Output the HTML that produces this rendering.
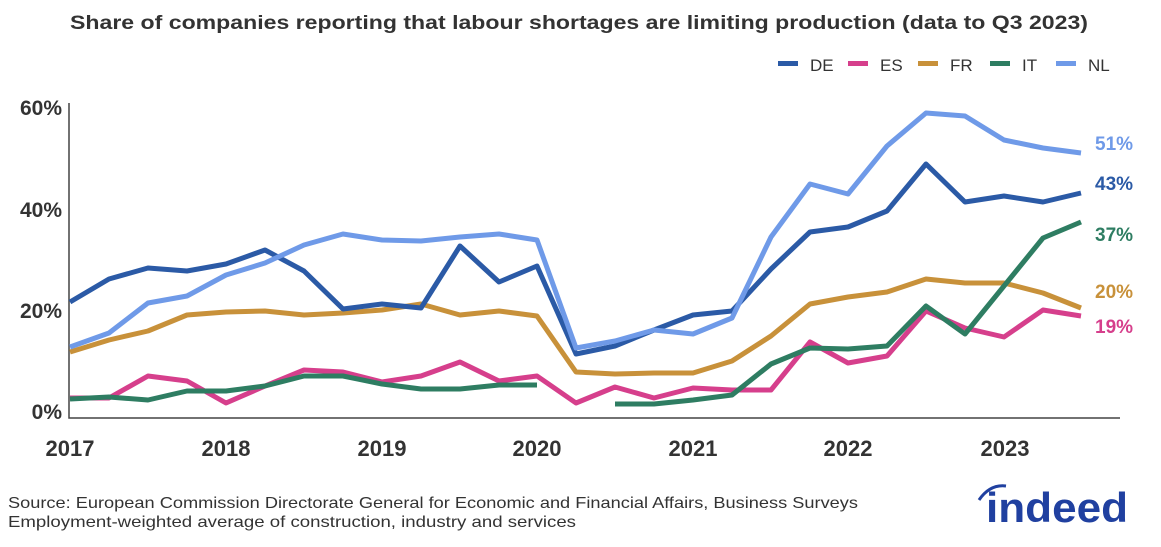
<!DOCTYPE html>
<html><head><meta charset="utf-8"><style>
html,body{margin:0;padding:0;background:#fff;}
svg{display:block;font-family:"Liberation Sans",sans-serif;}
</style></head><body>
<svg width="1161" height="547" viewBox="0 0 1161 547">
<text x="70" y="29" font-size="19" font-weight="bold" fill="#333" textLength="1018" lengthAdjust="spacingAndGlyphs">Share of companies reporting that labour shortages are limiting production (data to Q3 2023)</text>
<g font-size="17" fill="#333">
<rect x="778" y="61" width="20" height="5" fill="#2b5aa6"/><text x="810" y="71">DE</text>
<rect x="848" y="61" width="20" height="5" fill="#d63f8c"/><text x="880" y="71">ES</text>
<rect x="918" y="61" width="20" height="5" fill="#c8913a"/><text x="950" y="71">FR</text>
<rect x="990" y="61" width="20" height="5" fill="#2e7d62"/><text x="1022" y="71">IT</text>
<rect x="1056" y="61" width="20" height="5" fill="#6f9ae8"/><text x="1088" y="71">NL</text>
</g>
<g font-size="21" font-weight="bold" fill="#333" text-anchor="end">
<text x="62" y="115">60%</text><text x="62" y="217">40%</text><text x="62" y="318">20%</text><text x="62" y="419">0%</text>
</g>
<g font-size="22" font-weight="bold" fill="#333" text-anchor="middle">
<text x="70" y="456">2017</text><text x="226" y="456">2018</text><text x="382" y="456">2019</text><text x="537" y="456">2020</text><text x="693" y="456">2021</text><text x="848" y="456">2022</text><text x="1005" y="456">2023</text>
</g>
<path d="M69 103 V418 H1120" fill="none" stroke="#444" stroke-width="1.5"/>
<g fill="none" stroke-width="5" stroke-linejoin="round">
<polyline stroke="#d63f8c" points="70,398 109,398 148,376 187,381 226,403 265,386 304,370 343,372 382,382 421,376 460,362 499,381 537,376 576,403 615,387 654,398 693,388 732,390 771,390 810,342 848,363 887,356 926,311 965,328 1004,337 1043,310 1081,316"/>
<polyline stroke="#c8913a" points="70,352 109,340 148,331 187,315 226,312 265,311 304,315 343,313 382,310 421,304 460,315 499,311 537,316 576,372 615,374 654,373 693,373 732,361 771,336 810,304 848,297 887,292 926,279 965,283 1004,283 1043,293 1081,308"/>
<polyline stroke="#2e7d62" points="70,399 109,397 148,400 187,391 226,391 265,386 304,376 343,376 382,384 421,389 460,389 499,385 537,385"/>
<polyline stroke="#2e7d62" points="615,404 654,404 693,400 732,395 771,364 810,348 848,349 887,346 926,306 965,334 1004,286 1043,238 1081,222"/>
<polyline stroke="#2b5aa6" points="70,302 109,279 148,268 187,271 226,264 265,250 304,271 343,309 382,304 421,308 460,246 499,282 537,266 576,354 615,346 654,330 693,315 732,311 771,269 810,232 848,227 887,211 926,164 965,202 1004,196 1043,202 1081,193"/>
<polyline stroke="#6f9ae8" points="70,347 109,333 148,303 187,296 226,275 265,263 304,245 343,234 382,240 421,241 460,237 499,234 537,240 576,348 615,341 654,330 693,334 732,318 771,237 810,184 848,194 887,146 926,113 965,116 1004,140 1043,148 1081,153"/>
</g>
<g font-size="19" font-weight="bold">
<text x="1095" y="150" fill="#6f9ae8">51%</text>
<text x="1095" y="190" fill="#2b5aa6">43%</text>
<text x="1095" y="241" fill="#2e7d62">37%</text>
<text x="1095" y="298" fill="#c8913a">20%</text>
<text x="1095" y="333" fill="#d63f8c">19%</text>
</g>
<g font-size="16" fill="#333">
<text x="8" y="508" textLength="850" lengthAdjust="spacingAndGlyphs">Source: European Commission Directorate General for Economic and Financial Affairs, Business Surveys</text>
<text x="8" y="527" textLength="568" lengthAdjust="spacingAndGlyphs">Employment-weighted average of construction, industry and services</text>
</g>
<path d="M979 500 Q990 484 1006 486" fill="none" stroke="#2040a0" stroke-width="3"/>
<text x="986" y="522" font-size="42" font-weight="bold" fill="#2040a0" textLength="142" lengthAdjust="spacingAndGlyphs">indeed</text>
</svg>
</body></html>
